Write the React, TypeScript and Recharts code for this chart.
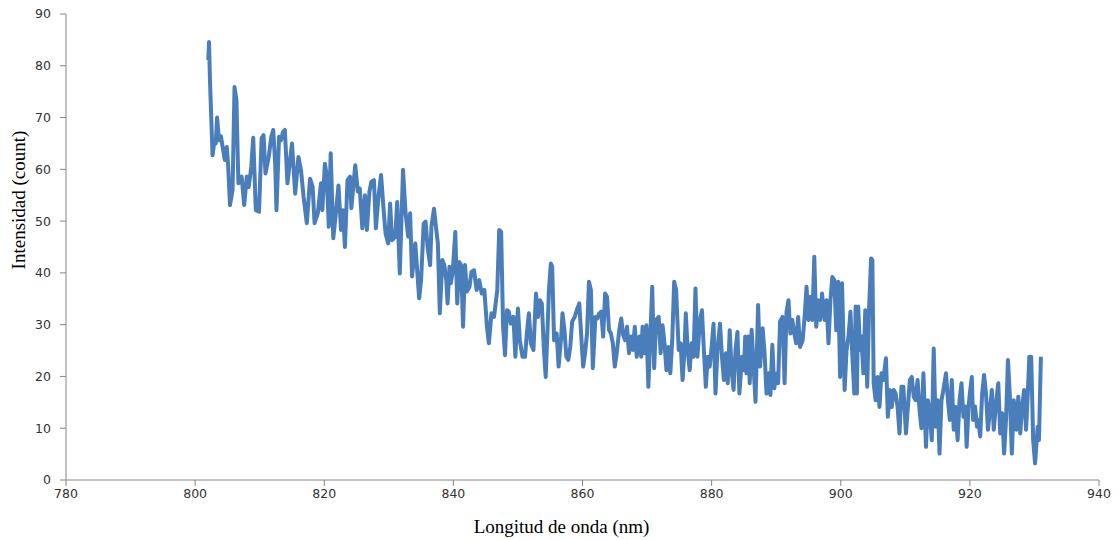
import React from 'react';
import { LineChart, Line, XAxis, YAxis } from 'recharts';

const wavelength: number[] = [
  802.05, 802.15, 802.3, 802.7, 803.0, 803.2, 803.4, 803.7, 804.0, 804.3, 804.6, 804.9, 805.1, 805.4, 805.8, 806.1, 806.4, 806.7, 807.2, 807.6,
  808.0, 808.3, 808.7, 809.0, 809.4, 809.9, 810.3, 810.6, 810.9, 811.4, 811.8, 812.1, 812.4, 812.6, 813.0, 813.3, 813.6, 813.9, 814.3, 815.0,
  815.5, 816.0, 816.4, 816.8, 817.3, 817.8,
  818.2, 818.5, 819.0, 819.5, 819.7, 820.1, 820.4, 820.7, 821.0, 821.4, 821.8, 822.2, 822.6, 822.9, 823.2, 823.6, 824.0, 824.2, 824.8, 825.2,
  825.5, 825.9, 826.3, 826.6, 827.0, 827.3, 827.7, 828.0, 828.4, 828.8, 829.2, 829.5, 829.9, 830.2, 830.5, 831.0, 831.3, 831.7, 832.2, 832.6,
  833.0, 833.3, 833.6, 834.1,
  834.7, 835.0, 835.4, 835.7, 836.0, 836.4, 836.6, 837.0, 837.3, 837.6, 837.9, 838.3, 838.6, 838.9, 839.1, 839.4, 839.6, 839.9, 840.3, 840.6,
  840.9, 841.2, 841.5, 841.8, 842.1, 842.5, 842.8, 843.2, 843.6, 844.0, 844.4, 844.8, 845.2, 845.5, 845.9, 846.3, 846.8, 847.1, 847.4, 847.7,
  848.0, 848.3, 848.6, 848.9, 849.3, 849.6, 850.0, 850.3, 850.7, 851.1,
  851.4, 851.7, 852.0, 852.4, 852.8, 853.1, 853.4, 853.7, 854.0, 854.3, 854.6, 854.8, 855.1, 855.3, 855.6, 856.0, 856.3, 856.7, 856.9, 857.2,
  857.5, 857.8, 858.1, 858.4, 858.8, 859.2, 859.5, 859.8, 860.1, 860.4, 860.7, 861.0, 861.3, 861.6, 862.0, 862.3, 862.6, 862.9, 863.2, 863.5,
  863.8, 864.1, 864.4, 864.7, 865.0, 865.3, 865.7, 866.0, 866.3, 866.6, 866.9, 867.2, 867.5, 867.8, 868.1, 868.4,
  868.8, 869.1, 869.3, 869.6, 869.9, 870.2, 870.5, 870.8, 871.1, 871.4, 871.8, 872.1, 872.4, 872.7, 873.0, 873.3, 873.6, 873.9, 874.2, 874.5,
  874.9, 875.2, 875.5, 875.8, 876.0, 876.3, 876.6, 876.9, 877.2, 877.5, 877.8, 878.2, 878.5, 878.8, 879.1, 879.4, 879.7, 880.0, 880.3, 880.6,
  880.9, 881.3, 881.6, 881.9, 882.2, 882.5, 882.8, 883.1, 883.4, 883.7, 884.0, 884.3, 884.7, 885.0,
  885.2, 885.4, 885.7, 885.9, 886.2, 886.5, 886.8, 887.2, 887.5, 887.9, 888.2, 888.5, 888.8, 889.1, 889.4, 889.7, 890.1, 890.3, 890.6, 891.0,
  891.3, 891.6, 891.9, 892.2, 892.5, 892.8, 893.1, 893.4, 893.7, 894.1, 894.4, 894.7, 895.0, 895.3, 895.6, 895.9, 896.2, 896.5, 896.8, 897.1,
  897.5, 897.8, 898.1, 898.4, 898.7, 899.0, 899.3, 899.6, 899.9, 900.2, 900.6, 900.9, 901.2, 901.5, 901.8, 902.1,
  902.3, 902.5, 902.7, 903.0, 903.2, 903.5, 903.8, 904.1, 904.4, 904.7, 904.9, 905.1, 905.4, 905.7, 906.0, 906.3, 906.6, 907.0, 907.3, 907.6,
  907.9, 908.2, 908.5, 908.8, 909.1, 909.4, 909.7, 910.1, 910.4, 910.7, 911.0, 911.3, 911.6, 911.9, 912.2, 912.5, 912.8, 913.2, 913.5, 913.8,
  914.1, 914.4, 914.7, 915.0, 915.3, 915.6, 915.9, 916.3, 916.6, 916.9, 917.2, 917.5, 917.8, 918.1, 918.4,
  918.7, 919.0, 919.3, 919.5, 919.8, 920.0, 920.3, 920.5, 920.8, 921.1, 921.3, 921.6, 921.9, 922.2, 922.5, 922.8, 923.1, 923.4, 923.7, 924.1,
  924.4, 924.7, 925.0, 925.3, 925.6, 925.9, 926.2, 926.5, 926.8, 927.2, 927.5, 927.8, 928.1, 928.4, 928.7, 929.0, 929.2, 929.5, 929.8, 930.1,
  930.5, 930.7, 931.0,
];

const intensity: number[] = [
  81.1, 84.6, 77.2, 62.7, 65.6, 65.0, 70.0, 65.6, 66.4, 64.0, 61.8, 64.3, 61.1, 53.1, 56.0, 75.9, 73.4, 57.3, 58.6, 53.1,
  58.6, 56.6, 60.5, 66.1, 52.1, 51.8, 66.0, 66.6, 59.2, 62.4, 66.3, 67.6, 61.1, 52.1, 66.3, 65.6, 67.2, 67.6, 57.3, 65.0,
  55.3, 62.4, 59.8, 54.7, 49.6, 58.2,
  56.6, 49.6, 51.5, 57.3, 52.1, 61.1, 58.6, 48.9, 63.1, 46.7, 51.5, 56.9, 48.3, 52.1, 45.0, 57.9, 58.6, 52.5, 60.8, 55.7,
  56.3, 48.6, 55.0, 48.3, 55.7, 57.6, 57.9, 48.6, 54.7, 58.9, 52.1, 47.6, 45.7, 53.4, 46.3, 47.0, 53.7, 39.9, 59.9, 51.5,
  47.0, 51.5, 39.3, 45.7,
  35.1, 38.6, 49.5, 49.9, 45.0, 41.5, 48.9, 52.4, 48.9, 45.7, 32.2, 42.5, 41.5, 38.6, 34.1, 41.2, 38.0, 40.2, 47.9, 34.1,
  42.1, 41.5, 29.6, 41.5, 36.4, 37.3, 40.2, 40.5, 36.7, 38.6, 36.0, 36.7, 29.6, 26.4, 32.2, 31.5, 36.7, 48.3, 47.9, 29.6,
  24.1, 32.8, 32.5, 30.2, 31.5, 23.8, 33.1, 27.0, 23.8, 23.8,
  28.6, 32.2, 26.4, 25.1, 36.0, 31.5, 34.7, 34.1, 25.7, 19.9, 29.6, 36.7, 41.8, 41.2, 27.0, 28.3, 21.9, 27.7, 32.2, 29.0,
  23.8, 23.2, 25.7, 30.6, 31.5, 33.1, 34.1, 28.0, 21.9, 24.5, 28.3, 38.3, 36.7, 21.6, 31.5, 31.2, 32.2, 32.5, 27.7, 36.0,
  35.4, 29.0, 28.3, 26.4, 21.9, 24.5, 29.0, 31.2, 28.0, 27.0, 29.6, 24.5, 27.7, 25.1, 29.6, 23.8,
  27.7, 23.8, 29.6, 24.5, 29.9, 18.0, 27.7, 37.3, 21.6, 30.9, 31.5, 24.5, 29.9, 26.4, 21.2, 25.7, 20.6, 27.0, 38.3, 36.7,
  25.1, 26.4, 19.3, 25.1, 32.2, 25.1, 21.2, 26.4, 23.8, 37.0, 23.8, 30.9, 32.8, 25.1, 18.0, 23.8, 21.9, 25.7, 30.2, 16.7,
  25.1, 30.2, 23.8, 19.3, 24.5, 18.7, 28.9, 21.2, 17.4, 25.1, 28.6, 16.7, 23.8, 21.2,
  27.7, 20.6, 27.7, 18.7, 29.0, 21.9, 15.1, 33.8, 21.9, 29.3, 24.5, 16.7, 20.6, 16.4, 26.1, 17.7, 20.6, 18.7, 30.6, 31.5,
  18.7, 32.5, 34.7, 28.3, 30.9, 28.3, 26.4, 31.5, 25.7, 27.0, 31.5, 37.3, 30.9, 35.4, 30.9, 43.1, 29.6, 34.7, 30.9, 36.0,
  30.9, 34.7, 26.4, 34.7, 39.2, 38.6, 28.9, 38.3, 19.9, 38.0, 17.4, 25.1, 27.7, 32.5, 23.8, 16.7,
  33.5, 16.7, 33.5, 25.1, 27.7, 20.6, 32.8, 18.0, 33.5, 42.8, 42.5, 18.7, 15.4, 19.9, 14.1, 20.6, 19.3, 23.5, 12.2, 17.4,
  14.1, 17.4, 16.7, 14.1, 9.0, 18.0, 18.0, 9.0, 14.1, 19.3, 19.9, 16.1, 15.4, 19.3, 13.5, 10.0, 20.6, 6.4, 15.4, 12.9,
  7.7, 25.4, 10.3, 15.4, 5.1, 15.4, 17.4, 20.6, 15.4, 11.6, 19.3, 9.7, 14.1, 7.7, 15.4,
  18.7, 12.2, 14.2, 6.4, 14.2, 16.7, 19.9, 11.6, 14.2, 10.3, 11.6, 8.4, 16.7, 20.3, 16.7, 9.7, 13.5, 17.4, 9.7, 15.4,
  18.7, 9.0, 12.9, 5.1, 11.6, 23.2, 16.1, 5.1, 15.4, 9.7, 16.1, 9.0, 14.2, 17.4, 9.7, 17.4, 23.8, 23.8, 7.7, 3.2,
  10.3, 7.7, 23.8,
];

const xTicks: number[] = [780, 800, 820, 840, 860, 880, 900, 920, 940];
const yTicks: number[] = [0, 10, 20, 30, 40, 50, 60, 70, 80, 90];
const xTitle = 'Longitud de onda (nm)';
const yTitle = 'Intensidad (count)';

const data = wavelength.map((w, i) => ({ w, v: intensity[i] }));

const axisColor = '#868686';
const tickStyle = { fill: '#333333', fontSize: 12.5, fontFamily: '"DejaVu Sans", Verdana, sans-serif' };
const titleFont = '"Liberation Serif", "Times New Roman", serif';

const YTitle = (props: any) => {
  const vb = props.viewBox || { x: 0, y: 0, width: 0, height: 0 };
  const cx = vb.x + 18;
  const cy = vb.y + vb.height / 2 - 47;
  return (
    <text
      x={cx}
      y={cy}
      transform={`rotate(-90 ${cx} ${cy})`}
      textAnchor="middle"
      dominantBaseline="central"
      fontFamily={titleFont}
      fontSize={19}
      fill="#000"
    >
      {yTitle}
    </text>
  );
};

const XTitle = (props: any) => {
  const vb = props.viewBox || { x: 0, y: 0, width: 0, height: 0 };
  return (
    <text
      x={vb.x + vb.width / 2 - 21}
      y={vb.y + 53}
      textAnchor="middle"
      fontFamily={titleFont}
      fontSize={19}
      fill="#000"
    >
      {xTitle}
    </text>
  );
};

export default function App() {
  return (
    <div style={{ position: 'absolute', left: 0, top: 0, width: 1120, height: 540, background: '#fff' }}>
      <LineChart width={1120} height={540} data={data} margin={{ top: 14, right: 21, left: 0, bottom: 0 }}>
        <XAxis
          dataKey="w"
          type="number"
          domain={[780, 940]}
          ticks={xTicks}
          allowDataOverflow
          height={60}
          stroke={axisColor}
          tickLine={{ stroke: axisColor }}
          tickSize={6}
          tickMargin={3}
          tick={tickStyle}
          label={<XTitle />}
        />
        <YAxis
          type="number"
          domain={[0, 90]}
          ticks={yTicks}
          width={66}
          stroke={axisColor}
          tickLine={{ stroke: axisColor }}
          tickSize={6}
          tickMargin={9}
          tick={tickStyle}
          label={<YTitle />}
        />
        <Line
          type="linear"
          dataKey="v"
          stroke="#4a7ebb"
          strokeWidth={4}
          strokeLinejoin="round"
          dot={false}
          activeDot={false}
          isAnimationActive={false}
        />
      </LineChart>
    </div>
  );
}
